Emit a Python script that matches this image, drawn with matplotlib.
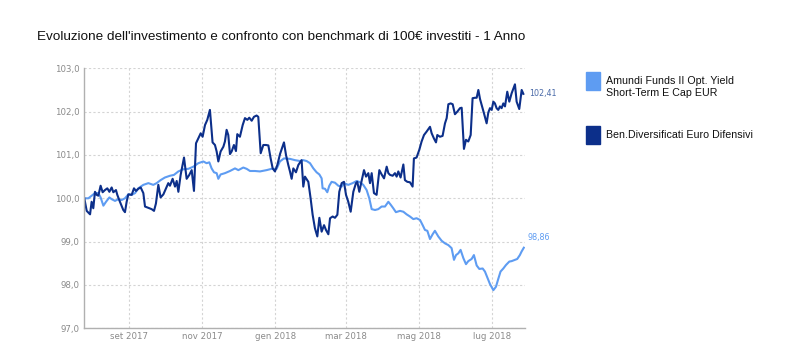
import matplotlib
matplotlib.use("Agg")
import matplotlib.pyplot as plt
import matplotlib.dates as mdates
import matplotlib.ticker as mticker
import pandas as pd
from matplotlib.patches import Rectangle

start_date = "2017-07-26"

fund_name = "Amundi Funds II Opt. Yield\nShort-Term E Cap EUR"
fund_days = [
    0.0, 3.4, 6.1, 8.9, 11.7, 13.6, 15.9, 18.1, 20.9, 22.8, 25.6, 28.4, 31.1, 33.9,
    36.7, 39.5, 42.3, 45.0, 49.2, 53.4, 57.5, 60.3, 63.6, 67.2, 71.4, 74.7, 78.4,
    82.5, 86.7, 90.9, 95.0, 99.2, 101.9, 104.2, 106.1, 108.1, 110.3, 111.7, 113.6,
    117.2, 121.4, 125.6, 128.4, 132.5, 135.3, 138.1, 142.2, 146.4, 151.9, 156.1,
    160.3, 163.0, 166.4, 171.4, 175.6, 179.8, 182.5, 185.3, 188.1, 190.9, 193.6,
    195.9, 197.8, 198.6, 200.6, 202.5, 204.2, 206.1, 208.9, 211.7, 214.5, 216.4,
    220.0, 223.6, 227.0, 229.7, 232.5, 235.3, 237.5, 239.5, 242.3, 245.0, 247.8,
    250.6, 253.4, 255.4, 257.5, 259.7, 263.1, 265.9, 268.6, 271.4, 274.2, 276.9,
    279.8, 282.0, 283.9, 285.9, 288.1, 290.3, 292.2, 295.0, 297.8, 300.6, 303.4,
    306.1, 308.1, 309.8, 311.7, 313.6, 315.9, 318.1, 320.0, 322.8, 324.7, 327.0,
    329.2, 332.0, 333.9, 335.9, 338.1, 340.9, 343.1, 345.0, 346.9, 349.2, 351.4,
    354.2, 356.1, 358.9, 360.8, 363.0, 364.4, 366.3,
]
fund_values = [
    100.00, 100.00, 100.06, 100.12, 100.12, 100.02, 99.83, 99.92, 100.02, 99.98,
    99.94, 99.98, 99.96, 100.00, 100.09, 100.08, 100.12, 100.23, 100.31, 100.35,
    100.31, 100.35, 100.42, 100.48, 100.52, 100.54, 100.62, 100.67, 100.68, 100.73,
    100.81, 100.85, 100.81, 100.83, 100.69, 100.60, 100.58, 100.45, 100.55, 100.58,
    100.63, 100.69, 100.65, 100.71, 100.68, 100.63, 100.63, 100.62, 100.65, 100.68,
    100.68, 100.85, 100.92, 100.91, 100.88, 100.86, 100.88, 100.86, 100.81, 100.69,
    100.60, 100.55, 100.46, 100.23, 100.22, 100.14, 100.29, 100.38, 100.36, 100.29,
    100.27, 100.35, 100.31, 100.35, 100.40, 100.37, 100.31, 100.19, 100.00, 99.75,
    99.73, 99.75, 99.81, 99.81, 99.92, 99.85, 99.77, 99.68, 99.71, 99.69, 99.63,
    99.58, 99.52, 99.54, 99.50, 99.38, 99.27, 99.25, 99.06, 99.17, 99.25, 99.12,
    99.02, 98.96, 98.92, 98.85, 98.58, 98.69, 98.73, 98.81, 98.62, 98.48, 98.55,
    98.60, 98.69, 98.45, 98.37, 98.38, 98.31, 98.17, 98.02, 97.88, 97.96, 98.14,
    98.31, 98.38, 98.46, 98.54, 98.55, 98.58, 98.60, 98.69, 98.77, 98.86,
]

bench_name = "Ben.Diversificati Euro Difensivi"
bench_days = [
    0.0, 2.0, 4.8, 6.1, 7.5, 8.9, 10.3, 11.7, 13.6, 15.3, 17.2, 19.2, 20.9, 22.8,
    24.2, 26.4, 27.5, 29.7, 32.5, 33.9, 35.3, 36.7, 39.5, 41.4, 43.1, 45.0, 47.0,
    49.2, 50.6, 53.4, 56.1, 58.1, 59.7, 61.7, 63.6, 65.9, 68.1, 70.0, 71.4, 73.6,
    75.6, 77.0, 78.4, 80.3, 83.1, 85.3, 87.5, 89.5, 91.4, 93.1, 95.0, 97.0, 98.6,
    100.6, 102.5, 104.7, 106.9, 108.9, 110.3, 111.7, 113.6, 115.9, 117.2, 118.6,
    120.0, 121.4, 122.8, 124.7, 126.4, 127.5, 129.7, 132.0, 133.9, 135.9, 137.5,
    139.5, 141.4, 143.6, 145.0, 147.0, 149.2, 151.4, 153.4, 155.3, 157.0, 158.9,
    160.9, 163.1, 166.4, 168.1, 170.0, 171.4, 172.8, 174.2, 176.4, 178.4, 181.1,
    182.5, 183.9, 186.7, 188.6, 190.3, 192.2, 194.2, 195.9, 197.8, 199.8, 201.4,
    203.4, 204.8, 207.0, 208.9, 210.9, 212.5, 214.5, 216.4, 218.1, 220.0, 222.0,
    224.2, 226.4, 227.5, 229.2, 231.1, 233.1, 234.8, 236.7, 238.1, 239.5, 241.4,
    243.6, 245.9, 247.8, 249.8, 252.0, 253.4, 254.8, 257.0, 258.9, 260.3, 261.7,
    263.6, 265.9, 267.2, 269.2, 271.4, 273.6, 274.7, 276.9, 279.2, 281.1, 283.1,
    285.3, 288.1, 289.5, 291.4, 293.1, 294.2, 296.4, 298.6, 300.6, 302.0, 303.4,
    305.3, 307.0, 308.9, 310.9, 313.1, 314.5, 316.4, 318.1, 320.0, 322.0, 323.6,
    325.6, 327.0, 328.4, 329.8, 331.2, 333.1, 335.3, 336.7, 338.1, 339.5, 340.9,
    342.2, 343.6, 345.0, 346.4, 347.8, 349.2, 350.6, 352.5, 354.2, 356.1, 358.9,
    360.3, 362.5, 364.5, 365.9,
]
bench_values = [
    100.00, 99.71, 99.63, 99.92, 99.77, 100.15, 100.08, 100.06, 100.29, 100.14,
    100.19, 100.23, 100.15, 100.25, 100.14, 100.19, 100.08, 99.92, 99.73, 99.68,
    99.92, 100.09, 100.08, 100.23, 100.17, 100.22, 100.25, 100.12, 99.81, 99.78,
    99.75, 99.71, 99.88, 100.31, 100.02, 100.09, 100.23, 100.35, 100.29, 100.45,
    100.27, 100.40, 100.15, 100.54, 100.94, 100.45, 100.54, 100.65, 100.17, 101.27,
    101.38, 101.50, 101.42, 101.69, 101.81, 102.04, 101.29, 101.23, 101.08, 100.85,
    101.08, 101.19, 101.31, 101.58, 101.46, 101.02, 101.08, 101.23, 101.09, 101.48,
    101.42, 101.69, 101.85, 101.81, 101.86, 101.79, 101.88, 101.91, 101.88, 101.04,
    101.23, 101.23, 101.22, 100.92, 100.69, 100.62, 100.77, 101.02, 101.29, 101.00,
    100.77, 100.62, 100.45, 100.69, 100.60, 100.77, 100.88, 100.27, 100.50, 100.38,
    100.00, 99.62, 99.31, 99.12, 99.55, 99.23, 99.38, 99.27, 99.17, 99.54, 99.58,
    99.55, 99.62, 100.15, 100.35, 100.38, 100.08, 99.92, 99.69, 100.15, 100.35,
    100.38, 100.15, 100.40, 100.65, 100.50, 100.58, 100.35, 100.58, 100.12, 100.08,
    100.65, 100.55, 100.46, 100.73, 100.58, 100.54, 100.52, 100.58, 100.50, 100.62,
    100.48, 100.78, 100.42, 100.38, 100.37, 100.27, 100.92, 100.94, 101.12, 101.31,
    101.46, 101.54, 101.65, 101.50, 101.38, 101.29, 101.46, 101.42, 101.44, 101.73,
    101.85, 102.17, 102.19, 102.17, 101.94, 102.00, 102.08, 102.09, 101.14, 101.35,
    101.31, 101.46, 102.31, 102.32, 102.32, 102.50, 102.29, 102.15, 101.96, 101.73,
    101.98, 102.08, 102.04, 102.23, 102.19, 102.08, 102.04, 102.12, 102.08, 102.19,
    102.12, 102.46, 102.23, 102.42, 102.63, 102.23, 102.06, 102.50, 102.41,
]

title = "Evoluzione dell'investimento e confronto con benchmark di 100€ investiti - 1 Anno"
month_ticks = ["2017-09-01", "2017-11-01", "2018-01-01", "2018-03-01", "2018-05-01", "2018-07-01"]
month_labels = ["set 2017", "nov 2017", "gen 2018", "mar 2018", "mag 2018", "lug 2018"]
y_ticks = [97.0, 98.0, 99.0, 100.0, 101.0, 102.0, 103.0]

FUND_COLOR = "#5e9cf2"
BENCH_COLOR = "#0c2f8a"
GRID_COLOR = "#d4d4d4"
TICK_COLOR = "#8a8a8a"


def to_dates(days):
    return pd.Timestamp(start_date) + pd.to_timedelta(days, unit="D")


def fmt_it(v):
    return f"{v:.2f}".replace(".", ",")


fig = plt.figure(figsize=(7.93, 3.52), dpi=100)
ax = fig.add_axes([0.1063, 0.0673, 0.5557, 0.7387])

fund_x = to_dates(fund_days)
bench_x = to_dates(bench_days)
ax.plot(fund_x, fund_values, color=FUND_COLOR, linewidth=1.5, solid_joinstyle="round")
ax.plot(bench_x, bench_values, color=BENCH_COLOR, linewidth=1.5, solid_joinstyle="round")

# end labels
ax.annotate(fmt_it(bench_values[-1]), (bench_x[-1], bench_values[-1]), xytext=(4, 0),
            textcoords="offset points", va="center", ha="left", fontsize=5.8,
            color="#4a6aa8", family="DejaVu Sans")
ax.annotate(fmt_it(fund_values[-1]), (fund_x[-1], fund_values[-1]), xytext=(3, 7),
            textcoords="offset points", va="center", ha="left", fontsize=5.8,
            color=FUND_COLOR, family="DejaVu Sans")

ax.set_xlim(pd.Timestamp(start_date), pd.Timestamp(start_date) + pd.Timedelta(days=367.25))
ax.set_ylim(97.0, 103.0)
ax.set_yticks(y_ticks)
ax.yaxis.set_major_formatter(mticker.FuncFormatter(lambda v, _: f"{v:.1f}".replace(".", ",")))
ax.set_xticks([mdates.date2num(pd.Timestamp(d)) for d in month_ticks])
ax.set_xticklabels(month_labels)

ax.grid(True, color=GRID_COLOR, linestyle=(0, (2, 2)), linewidth=0.8)
ax.set_axisbelow(True)
for side in ["top", "right"]:
    ax.spines[side].set_visible(False)
for side in ["left", "bottom"]:
    ax.spines[side].set_color("#b0b0b0")
    ax.spines[side].set_linewidth(1.0)
ax.tick_params(length=0, labelsize=6.2, colors=TICK_COLOR)
ax.tick_params(axis="x", pad=2.5)
ax.tick_params(axis="y", pad=3.5)
for lab in ax.get_xticklabels() + ax.get_yticklabels():
    lab.set_family("DejaVu Sans")

fig.text(37 / 793, 1 - 37 / 352, title, fontsize=9.7, family="Liberation Sans",
         va="center", ha="left", color="#111111")

# legend on the right
W, H = 793, 352
for (name, color, top_px, text_px) in [
    (fund_name, FUND_COLOR, 72, 87),
    (bench_name, BENCH_COLOR, 126, 135),
]:
    fig.patches.append(Rectangle((586 / W, 1 - (top_px + 18) / H), 13.5 / W, 18 / H,
                                 transform=fig.transFigure, color=color, figure=fig))
    fig.text(606 / W, 1 - text_px / H, name, fontsize=7.7, family="Liberation Sans",
             va="center", ha="left", color="#111111", linespacing=1.3)

fig.savefig("out.png", dpi=100)
